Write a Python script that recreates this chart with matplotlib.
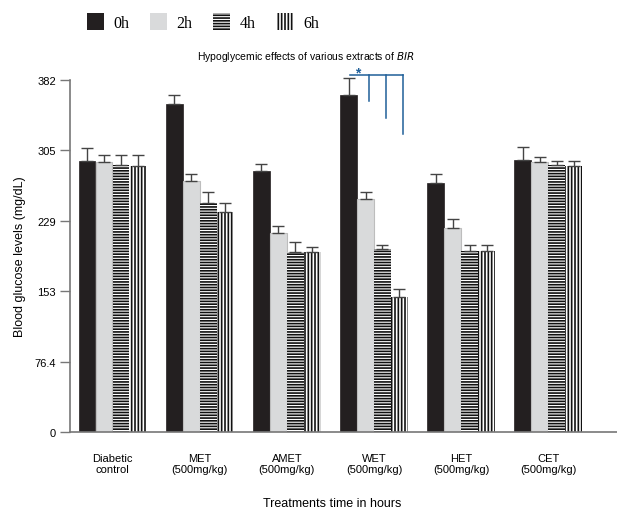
import matplotlib
matplotlib.use("Agg")
import matplotlib.pyplot as plt
from matplotlib.patches import Patch
import numpy as np

groups = ["Diabetic\ncontrol", "MET\n(500mg/kg)", "AMET\n(500mg/kg)",
          "WET\n(500mg/kg)", "HET\n(500mg/kg)", "CET\n(500mg/kg)"]
times = ["0h", "2h", "4h", "6h"]

# mean blood glucose (mg/dL) per group, one list per time point
glucose_0h = [294, 356, 283, 366, 270, 295]
glucose_2h = [293, 272, 216, 253, 221, 293]
glucose_4h = [290, 249, 195, 199, 196, 290]
glucose_6h = [289, 239, 195, 147, 197, 289]

err_0h = [14, 10, 8, 18, 10, 14]
err_2h = [8, 8, 8, 7, 10, 5]
err_4h = [11, 11, 11, 4, 7, 4]
err_6h = [12, 10, 6, 8, 6, 5]

yticks = [0, 76.4, 152.8, 229.2, 305.6, 382]
ytick_labels = ["0", "76.4", "153", "229", "305", "382"]

# significance bracket over WET (group 3): level of bar, drop end for 2h/4h/6h
sig_group = 3
sig_top = 388
sig_drop_ends = [359, 341, 323]

plt.rcParams["font.family"] = ["Liberation Sans", "DejaVu Sans"]
plt.rcParams["hatch.linewidth"] = 1.2

fig = plt.figure(figsize=(6.17, 5.10), dpi=100)
ax = fig.add_axes([0.1135, 0.151, 0.8865, 0.690])

x = np.arange(len(groups))
width = 0.195
styles = [
    dict(color="#231f20", edgecolor="#231f20", linewidth=0.5),
    dict(color="#d9dadb", edgecolor="#bdbdbd", linewidth=0.8),
    dict(color="white", edgecolor="#111111", hatch="------", linewidth=0),
    dict(color="white", edgecolor="#111111", hatch="|||||", linewidth=0),
]
series = [glucose_0h, glucose_2h, glucose_4h, glucose_6h]
errs = [err_0h, err_2h, err_4h, err_6h]

for i, (vals, err, st) in enumerate(zip(series, errs, styles)):
    pos = x + (i - 1.5) * width
    ax.bar(pos, vals, width=width * 0.97, **st)
    ax.errorbar(pos, vals, yerr=[np.zeros(len(err)), err], fmt="none",
                ecolor="#444444", elinewidth=1.0, capsize=4, capthick=1.0,
                clip_on=False)

# significance bracket
blue = "#1f5f99"
bar_x = [x[sig_group] + (i - 1.5) * width for i in range(4)]
left = bar_x[0] + 0.02
drops = [bx + 0.04 for bx in bar_x[1:]]
ax.plot([left, drops[-1]], [sig_top, sig_top], color=blue, lw=1.1, clip_on=False)
for dx, yend in zip(drops, sig_drop_ends):
    ax.plot([dx, dx], [sig_top, yend], color=blue, lw=1.1, clip_on=False)
ax.text(bar_x[0] + 0.11, sig_top + 2, "*", color=blue, fontsize=10,
        ha="center", va="center", fontweight="bold")

ax.set_xlim(-0.49, 5.79)
ax.set_ylim(0, 382)
ax.set_yticks(yticks)
ax.set_yticklabels(ytick_labels, fontsize=8)
ax.set_xticks(x)
ax.set_xticklabels(groups, fontsize=8)
ax.tick_params(axis="x", length=0, pad=15)
ax.tick_params(axis="y", length=7, width=1, color="#777777", pad=3)
for s in ["top", "right"]:
    ax.spines[s].set_visible(False)
for s in ["left", "bottom"]:
    ax.spines[s].set_color("#777777")
    ax.spines[s].set_linewidth(1.2)

ax.set_ylabel("Blood glucose levels (mg/dL)", fontsize=9, labelpad=6)
ax.set_xlabel("Treatments time in hours", fontsize=9)
ax.xaxis.set_label_coords(0.479, -0.185)
fig.text(0.496, 0.888, "Hypoglycemic effects of various extracts of $\\it{BIR}$",
         fontsize=7.5, ha="center", va="center")

handles = [Patch(facecolor=st["color"], edgecolor=st["edgecolor"],
                 hatch=st.get("hatch"), linewidth=0) for st in styles]
fig.legend(handles, times, loc="upper left", bbox_to_anchor=(0.118, 1.0),
           ncol=4, frameon=False, handlelength=1.05, handleheight=1.2,
           handletextpad=0.6, columnspacing=1.3,
           prop={"family": "Liberation Serif", "size": 11.5})

fig.savefig("out.png", dpi=100)
